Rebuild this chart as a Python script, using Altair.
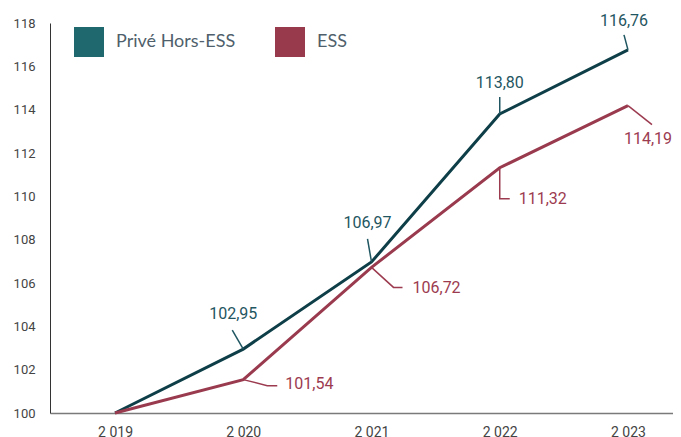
import altair as alt
import pandas as pd

# ---- data ----
years = [2019, 2020, 2021, 2022, 2023]
series = ["Privé Hors-ESS", "ESS"]
prive = [100.00, 102.95, 106.97, 113.80, 116.76]
ess = [100.00, 101.54, 106.72, 111.32, 114.19]
y_ticks = [100, 102, 104, 106, 108, 110, 112, 114, 116, 118]

line_colors = ["#0e3f48", "#9a3a4e"]
legend_colors = ["#1e686e", "#983a4c"]
text_colors = ["#1f5661", "#9c3b50"]

# annotation layout (pixel offsets from each point): leader path, label offset, alignment
annot = {
    (0, 2020): ([(0, 0), (-11, -19)], (-10, -35), "center"),
    (0, 2021): ([(0, 0), (-4, -23)], (-4, -39), "center"),
    (0, 2022): ([(0, 0), (0, -17)], (0, -31), "center"),
    (0, 2023): ([(0, 0), (-4, -15)], (-4, -29), "center"),
    (1, 2020): ([(0, 0), (24, 6), (34, 6)], (42, 4), "left"),
    (1, 2021): ([(0, 0), (22, 20), (31, 20)], (41, 21), "left"),
    (1, 2022): ([(0, 0), (0, 31), (10, 31)], (19, 31), "left"),
    (1, 2023): ([(0, 0), (24, 19)], (20, 33), "center"),
}

# scale geometry
W, H = 623, 390
x_dom = [2018.493, 2023.351]
y_dom = [100, 118]
px_x = W / (x_dom[1] - x_dom[0])
px_y = H / (y_dom[1] - y_dom[0])

rows = []
for s, vals in zip(series, [prive, ess]):
    for yr, v in zip(years, vals):
        rows.append({"series": s, "year": yr, "value": v})
df = pd.DataFrame(rows)

lead_rows, lab_rows = [], []
for si, (s, vals) in enumerate(zip(series, [prive, ess])):
    for yr, v in zip(years, vals):
        if (si, yr) not in annot:
            continue
        path, (lx, ly), al = annot[(si, yr)]
        for k, (dx, dy) in enumerate(path):
            lead_rows.append({"series": s, "id": f"{s}-{yr}", "ord": k,
                              "x": yr + dx / px_x, "y": v - dy / px_y})
        lab_rows.append({"series": s, "x": yr + lx / px_x, "y": v - ly / px_y,
                         "label": f"{v:.2f}".replace(".", ","), "align": al})
lead = pd.DataFrame(lead_rows)
labs = pd.DataFrame(lab_rows)

x_scale = alt.Scale(domain=x_dom, nice=False, zero=False)
y_scale = alt.Scale(domain=y_dom, nice=False, zero=False)
col = alt.Color("series:N", scale=alt.Scale(domain=series, range=line_colors), legend=None)
tcol = alt.Color("series:N", scale=alt.Scale(domain=series, range=text_colors), legend=None)

x_axis = alt.Axis(values=years, grid=False, ticks=False, title=None,
                  labelExpr="slice(toString(datum.value),0,1)+' '+slice(toString(datum.value),1)",
                  domainColor="#7a7a7a", domainWidth=1.5, labelPadding=12,
                  labelFontSize=14, labelColor="#444444", labelFont="Roboto", labelFlush=False)
y_axis = alt.Axis(values=y_ticks, grid=False, ticks=False, title=None,
                  domainColor="#333333", domainWidth=1, labelPadding=15,
                  labelFontSize=13, labelColor="#444444", labelFont="Roboto")

base = alt.Chart(df)
lines = base.mark_line(strokeWidth=3, clip=False).encode(
    x=alt.X("year:Q", scale=x_scale, axis=x_axis),
    y=alt.Y("value:Q", scale=y_scale, axis=y_axis),
    color=col,
    detail="series:N",
)

legend_layer = base.mark_square(opacity=0, size=0).encode(
    x=alt.X("year:Q", scale=x_scale),
    y=alt.Y("value:Q", scale=y_scale),
    color=alt.Color("series:N", scale=alt.Scale(domain=series, range=legend_colors),
                    legend=alt.Legend(orient="none", legendX=24, legendY=4, direction="horizontal",
                                      title=None, symbolType="square", symbolSize=900,
                                      symbolOpacity=1, symbolStrokeWidth=0,
                                      labelFontSize=18, labelColor="#4f5f6b", labelFont="Lato",
                                      labelOffset=12, columnPadding=39)),
)

leaders = alt.Chart(lead).mark_line(strokeWidth=1.5, clip=False).encode(
    x=alt.X("x:Q", scale=x_scale),
    y=alt.Y("y:Q", scale=y_scale),
    color=tcol,
    detail="id:N",
    order="ord:Q",
)

text_c = alt.Chart(labs).transform_filter("datum.align == 'center'").mark_text(
    align="center", baseline="middle", fontSize=16, font="Roboto").encode(
    x=alt.X("x:Q", scale=x_scale), y=alt.Y("y:Q", scale=y_scale), text="label:N", color=tcol)
text_l = alt.Chart(labs).transform_filter("datum.align == 'left'").mark_text(
    align="left", baseline="middle", fontSize=16, font="Roboto").encode(
    x=alt.X("x:Q", scale=x_scale), y=alt.Y("y:Q", scale=y_scale), text="label:N", color=tcol)

chart = alt.layer(lines, leaders, text_c, text_l, legend_layer).resolve_scale(color="independent").properties(
    width=W, height=H,
    autosize=alt.AutoSizeParams(type="none"),
    padding={"left": 42, "top": 15, "right": 0, "bottom": 24},
).configure_view(stroke=None)

chart.save("out.html", embed_options={"renderer": "svg", "actions": False})
